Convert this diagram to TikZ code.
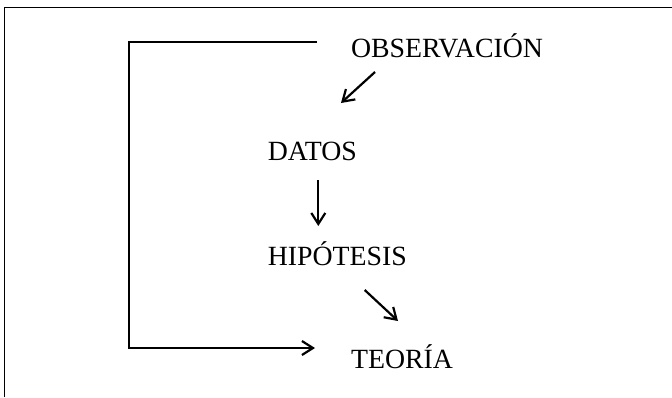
\documentclass[tikz,border=0pt]{standalone}
\usepackage{fontspec}
\setmainfont{Liberation Serif}
\usetikzlibrary{arrows.meta}

\begin{document}
\begin{tikzpicture}[x=0.5pt,y=-0.5pt,line width=1.1pt,
    etapa/.style={anchor=base west,inner sep=0pt,font=\fontsize{13.9}{16}\selectfont},
    flecha/.style={-{Straight Barb[length=5.5pt,width=7pt]}}]

  % Frame (only top and left edges show)
  \useasboundingbox (0,0) rectangle (672,397);
  \draw[line width=0.7pt] (672,7.5) -- (4.5,7.5) -- (4.5,397);

  % Stages
  \node[etapa] (obs) at (350,57) {OBSERVACIÓN};
  \node[etapa] (datos) at (266.7,160) {DATOS};
  \node[etapa] (hip) at (266.7,265) {HIPÓTESIS};
  \node[etapa] (teoria) at (350,368) {TEORÍA};

  % Steps down the chain
  \draw[flecha] ([shift={(25,15)}]obs.base west) -- ([shift={(-17,-57)}]datos.base east);
  \draw[flecha] ([shift={(51.6,20)}]datos.base west) -- ([shift={(51.6,-39)}]hip.base west);
  \draw[flecha] ([shift={(98,25)}]hip.base west) -- ([shift={(48,-47)}]teoria.base west);

  % Loop back from observation to theory
  \draw[flecha] ([shift={(-33,-15)}]obs.base west) -- ++(-188,0)
      |- ([shift={(-35,-20)}]teoria.base west);

\end{tikzpicture}
\end{document}
